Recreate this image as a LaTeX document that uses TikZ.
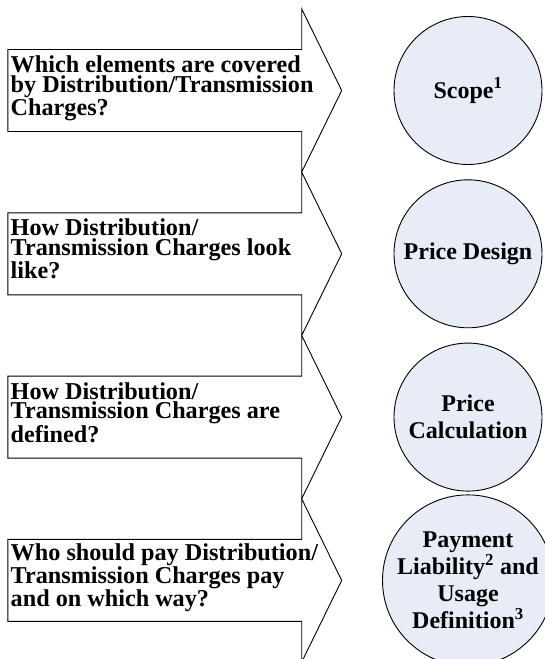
\documentclass[tikz,border=0pt]{standalone}
\usepackage{fontspec}
\setmainfont{Liberation Serif}
\definecolor{answerfill}{RGB}{231,236,247}
\begin{document}
\begin{tikzpicture}[x=1pt,y=-1pt,
  arrowline/.style={draw=black, line width=0.9pt, fill=white, line join=miter},
  question/.style={anchor=west, inner sep=0pt, align=left,
    font=\bfseries\fontsize{24.2}{19.5}\selectfont},
  answer/.style={circle, draw=black, line width=0.9pt, fill=answerfill,
    minimum size=148pt, inner sep=0pt, align=center,
    font=\bfseries\fontsize{24}{27}\selectfont},
  qarrow/.pic={
    \path[arrowline] (0,-41) -- (293.9,-41) -- (293.9,-81.6) -- (333.9,0)
      -- (293.9,81.6) -- (293.9,41) -- (0,41) -- cycle;
  }
]
\useasboundingbox (0,0) rectangle (544,659);

% block arrows carrying the questions
\foreach \i/\cy in {1/90.5, 2/253.8, 3/417.1, 4/580.4}
  \pic (arrow\i) at (7.8,\cy) {qarrow};

\node[question] (q1) at (10.5,88.5)
  {Which elements are covered\\by Distribution/Transmission\\Charges?\strut};
\node[question] (q2) at (10.5,251.8)
  {How Distribution/\\Transmission Charges look\\like?\strut};
\node[question] (q3) at (10.5,415.1)
  {How Distribution/\\Transmission Charges are\\defined?\strut};
\node[question] (q4) at (10.5,578.4)
  {Who should pay Distribution/\\Transmission Charges pay\\and on which way?\strut};

% answer circles
\node[answer] (a1) at (468,90.5) {Scope\textsuperscript{1}};
\node[answer] (a2) at (468,253.8) {Price Design};
\node[answer] (a3) at (468,417.1) {Price\\Calculation};
\node[answer] (a4) at (468,580.4)
  {Payment\\Liability\textsuperscript{2} and\\Usage\\Definition\textsuperscript{3}};
\end{tikzpicture}
\end{document}
